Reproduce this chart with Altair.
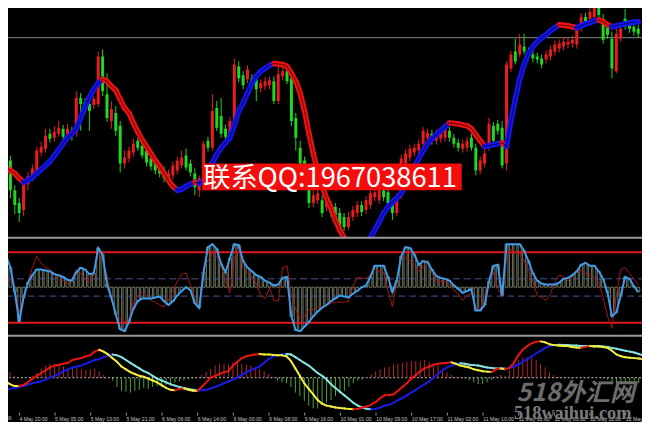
import json
import altair as alt
import pandas as pd

# ---------------- data (bar index 0..144, hourly bars) ----------------
open_ = [117, 80, 50, 37, 30, 56, 63, 70, 88, 92,
         107, 103, 107, 112, 106, 110, 108, 143, 139, 137,
         136, 137, 185, 147, 120, 128, 115, 77, 82, 88,
         100, 95, 90, 82, 78, 74, 70, 60, 65, 70,
         75, 85, 77, 67, 50, 60, 100, 93, 133, 125,
         112, 107, 117, 175, 166, 162, 163, 162, 153, 155,
         156, 160, 140, 165, 170, 163, 123, 93, 80, 57,
         37, 40, 40, 33, 35, 33, 27, 23, 13, 23,
         27, 35, 30, 35, 43, 40, 50, 48, 38, 27,
         45, 77, 83, 88, 90, 97, 103, 107, 100, 102,
         103, 110, 103, 98, 92, 93, 103, 93, 70, 77,
         93, 115, 117, 113, 77, 173, 190, 187, 195, 190,
         187, 185, 183, 182, 185, 190, 193, 195, 197, 198,
         197, 213, 225, 223, 225, 235, 223, 215, 203, 170,
         203, 223, 218, 215, 213]
close_ = [73, 50, 35, 27, 57, 64, 72, 90, 94, 105,
          102, 109, 113, 104, 112, 105, 143, 137, 134, 130,
          142, 185, 150, 123, 132, 110, 77, 83, 90, 97,
          93, 85, 78, 74, 70, 67, 62, 67, 75, 80,
          83, 73, 68, 53, 62, 97, 93, 130, 113, 107,
          104, 120, 177, 163, 156, 172, 158, 152, 158, 160,
          161, 140, 167, 170, 160, 120, 103, 77, 70, 37,
          45, 47, 27, 40, 27, 25, 13, 13, 23, 30,
          35, 28, 40, 47, 48, 50, 43, 37, 27, 43,
          82, 87, 92, 93, 97, 110, 108, 100, 107, 109,
          112, 103, 97, 93, 97, 100, 93, 70, 80, 87,
          117, 100, 110, 75, 177, 187, 180, 197, 190, 187,
          183, 182, 177, 187, 192, 197, 198, 200, 200, 202,
          213, 225, 220, 230, 235, 227, 202, 207, 173, 208,
          213, 215, 213, 210, 208]
high_ = [122, 85, 55, 42, 62, 68, 76, 94, 99, 112,
         112, 115, 120, 116, 117, 114, 150, 148, 143, 141,
         145, 190, 192, 168, 140, 135, 120, 90, 94, 102,
         103, 98, 94, 86, 82, 78, 74, 71, 79, 84,
         90, 92, 81, 72, 65, 100, 104, 147, 140, 143,
         116, 124, 183, 180, 170, 176, 167, 165, 162, 164,
         165, 165, 175, 174, 175, 168, 128, 100, 84, 62,
         50, 51, 45, 44, 39, 37, 32, 27, 28, 34,
         39, 39, 44, 51, 52, 54, 54, 52, 42, 47,
         86, 91, 96, 97, 101, 114, 112, 111, 111, 113,
         116, 114, 107, 102, 101, 104, 107, 97, 84, 91,
         123, 119, 121, 120, 180, 191, 203, 208, 208, 194,
         191, 189, 187, 191, 196, 201, 202, 204, 204, 206,
         217, 229, 229, 234, 240, 240, 228, 219, 210, 213,
         217, 233, 222, 219, 217]
low_ = [68, 42, 26, 18, 24, 50, 59, 66, 84, 88,
        98, 99, 104, 100, 102, 100, 104, 110, 128, 110,
        132, 134, 145, 119, 112, 105, 68, 72, 78, 84,
        90, 82, 74, 70, 66, 63, 58, 55, 61, 66,
        72, 70, 64, 45, 43, 57, 89, 90, 110, 103,
        100, 103, 113, 159, 152, 158, 154, 140, 149, 151,
        152, 137, 137, 161, 157, 115, 90, 70, 65, 32,
        33, 36, 23, 29, 23, 21, 8, 9, 10, 19,
        23, 24, 26, 31, 39, 36, 39, 33, 20, 24,
        41, 73, 79, 84, 86, 94, 99, 96, 96, 98,
        99, 99, 93, 89, 88, 89, 90, 65, 66, 73,
        90, 96, 106, 72, 70, 169, 177, 184, 187, 183,
        179, 178, 173, 178, 181, 186, 189, 191, 193, 194,
        193, 210, 216, 219, 222, 224, 198, 203, 163, 168,
        200, 212, 209, 206, 204]
ma_line = [72, 70, 67, 62, 58, 60, 63, 67, 71, 75,
           79, 85, 91, 97, 103, 107, 112, 123, 134, 144,
           152, 158, 162, 160, 155, 151, 142, 133, 128, 118,
           109, 101, 94, 87, 80, 74, 67, 60, 54, 50,
           51, 54, 56, 58, 57, 60, 68, 78, 86, 93,
           98, 103, 116, 130, 138, 148, 158, 165, 170, 173,
           176, 178, 177.5, 177, 175, 168, 160, 148, 130, 107,
           87, 68, 54, 42, 32, 20, 10, 2, -5, -10,
           -12, -10, -4, 2, 10, 18, 27, 33, 38, 42,
           47, 55, 65, 74, 82, 90, 97, 102, 106, 110,
           114, 118, 117.5, 117, 116, 115, 112, 106, 100, 94,
           95, 96, 97, 98, 94, 120, 142, 162, 177, 188,
           195, 200, 204, 207, 211, 214, 217, 216.5, 216, 215,
           214, 216, 218, 219, 221, 222, 220, 217, 215, 216,
           217, 218, 219, 219.5, 220]
level_price = 204

osc_main = [34, 21, -5, -37, -11, 5, 13, 19, 19, 18,
            17, 14, 13, 11, 8, 7, 16, 21, 19, 14,
            15, 42, 35, 3, -11, -29, -45, -47, -37, -23,
            -15, -12, -12, -12, -11, -10, -15, -19, -15, -9,
            -4, 0, -3, -17, -22, 16, 43, 46, 41, 25,
            16, 31, 46, 45, 28, 21, 17, 13, 11, 7,
            5, 2, 3, 10, 11, -31, -46, -47, -42, -37,
            -31, -26, -22, -19, -15, -12, -9, -10, -11, -7,
            -4, 0, 2, 11, 23, 23, 23, 11, -5, 7,
            33, 43, 42, 35, 24, 28, 27, 19, 12, 10,
            9, 7, 2, -2, -6, -4, -2, -25, -25, -19,
            6, 23, 24, -9, 46, 46, 46, 46, 39, 28,
            15, 7, 4, 3, 3, 3, 5, 9, 10, 13,
            17, 24, 26, 23, 23, 17, 9, -6, -31, -27,
            -9, 11, 9, 1, -5]
osc_signal = [16, 6, -1, -27, -9, 6, 21, 33, 26, 21,
              19, 15, 11, 7, 4, 9, 19, 15, 9, 6,
              13, 38, 29, 13, -14, -27, -34, -37, -34, -17,
              -9, -5, -9, -14, -16, -19, -21, -14, -4, 6,
              14, 15, 3, -14, -21, 21, 29, 36, 33, 23,
              6, -6, 31, 43, 21, 16, 11, 4, -9, -12,
              -1, -14, -15, 21, 23, -9, -24, -34, -31, -24,
              -24, -21, -21, -19, -17, -16, -16, -16, -15, 1,
              11, 10, 9, 14, 19, 17, 16, -4, -21, 6,
              34, 31, 29, 23, 17, 21, 29, 16, 6, 6,
              6, 3, -3, -7, -14, -9, -6, -21, -24, -9,
              6, 16, -1, -11, 31, 41, 38, 36, 29, 19,
              6, -9, -11, -14, -7, 6, 13, 11, 7, 11,
              16, 18, 15, 13, 11, 6, -11, -31, -44, -9,
              19, 21, 15, 9, 3]
osc_levels_solid = [37.5, -38]
osc_levels_dash = [9, -9.5]

macd_hist = [15, 12, 6, 2, 0, 0, 0, 2, 5, 10,
             13, 15, 15, 14, 12, 10, 11, 10, 9, 8,
             9, 10, 7, 3, 0, -3, -10, -14, -15, -16,
             -14, -13, -11, -12, -10, -9, -10, -8, -6, -5,
             -4, -3, -2, -1, 0, 3, 6, 9, 13, 15,
             15, 14, 16, 17, 15, 14, 13, 10, 9, 7,
             4, 1, -3, -5, -6, -10, -16, -20, -25, -30,
             -33, -33, -29, -27, -24, -20, -17, -14, -10, -6,
             -3, -2, 1, 4, 7, 9, 11, 12, 14, 15,
             16, 17, 18, 18, 18, 19, 17, 15, 13, 9,
             6, 3, 1, 0, -1, -3, -5, -7, -7, -5,
             -2, 2, 3, 2, 8, 14, 19, 22, 22, 21,
             19, 15, 11, 6, 3, 1, 0, 0, -1, 0,
             0, 0, 1, 0, 0, -1, -2, -4, -6, -7,
             -6, -7, -6, -6, -5]
macd_fast = [-2, -4, -7, -9, -9, -8, -5, -1, 2, 5,
             8, 11, 13, 14, 15, 16, 19, 20, 21, 23,
             24, 28, 30, 28, 25, 21, 17, 12, 9, 6,
             4, 2, 1, -1, -3, -5, -8, -11, -13, -13.5,
             -12, -11.5, -13, -14, -14, -10, -5, 0, 2, 4,
             6, 7, 13, 17, 21, 23, 24, 25, 25.5, 25,
             25, 24.5, 24, 24, 23, 18, 10, 2, -6, -12,
             -18, -24, -28, -30, -31, -32, -32.5, -33, -33.5, -34,
             -33.5, -32, -31, -29, -26, -22, -19, -18.5, -18, -14,
             -10, -6, -1, 3, 7, 10, 12, 14, 15, 15.5,
             16, 16.5, 15, 13, 12, 11, 9, 8, 7, 6.5,
             6, 9, 10, 9, 10.5, 16, 24, 30, 34, 37,
             38.5, 39, 38, 36, 35, 34.5, 34, 34, 33, 32.5,
             32, 33, 34, 33.5, 33.5, 33, 32, 29, 25, 23,
             22, 21.5, 21, 20.5, 20]
macd_slow = [-14, -13, -12, -11, -10, -9, -7.5, -6, -5, -4,
             -2, 0, 2, 4, 7, 9, 11, 12, 13, 15,
             17, 19, 20, 22, 24, 25, 24, 22, 19, 16,
             13, 10, 7, 5, 2, -1, -3, -5, -7, -8.5,
             -10, -11, -12, -13, -14, -13.5, -13, -11.5, -10, -8,
             -6, -4, -2, 0, 3, 6, 8, 10, 12, 16,
             20, 23, 24, 25, 25.5, 25, 22, 19, 16, 13,
             9, 5, 2, -2, -7, -11, -15, -19, -23, -27,
             -30, -32, -33.5, -34, -33.5, -32, -30, -29, -27, -24,
             -22, -19, -16, -13, -10, -7, -4, 0, 4, 8,
             11, 13, 15, 15.5, 15, 14, 13.5, 13, 12, 11,
             10.5, 10, 10, 10, 10.5, 12, 14, 17, 20, 23,
             26, 29, 32, 34, 35, 35.5, 35, 35, 34.5, 34.5,
             34, 34, 34, 34, 34, 33.5, 33, 32, 31, 30,
             29, 28, 27, 25.5, 24]

tick_bars = [4, 12, 20, 28, 36, 44, 52, 60, 68, 76, 84, 92, 100, 108, 116, 124, 132, 140]
tick_labels = ["4 May 20:00", "5 May 05:00", "5 May 13:00", "5 May 21:00",
               "6 May 06:00", "6 May 14:00", "9 May 00:00", "9 May 08:00", "9 May 16:00",
               "10 May 01:00", "10 May 09:00", "10 May 17:00", "11 May 02:00", "11 May 10:00",
               "11 May 18:00", "12 May 03:00", "12 May 11:00", "12 May 19:00"]
first_tick_bar = -4
first_tick_label = "4 May 12:00"

note_text = "联系QQ:1967038611"
wm_cn = "518外汇网"
wm_en = "518waihui.com"

# ---------------- styling ----------------
W = 650
H_MAIN, H_OSC, H_MACD = 237, 99, 78
RED, GREEN = "#ec1c1c", "#1fd81f"
LABEL_FONT, LABEL_SIZE, LABEL_COLOR = "Liberation Sans", 5.2, "#c4c4c4"
bars = list(range(len(close_)))

candles = pd.DataFrame({"k": bars, "open": open_, "close": close_, "high": high_, "low": low_})
candles["col"] = [RED if c >= o else GREEN for o, c in zip(open_, close_)]


def segments(values, up_col, down_col):
    rows = []
    for i in range(len(values) - 1):
        c = up_col if values[i + 1] > values[i] else down_col
        rows.append({"seg": i, "k": i, "v": values[i], "col": c})
        rows.append({"seg": i, "k": i + 1, "v": values[i + 1], "col": c})
    return pd.DataFrame(rows)


xsc = alt.Scale(domain=[0, 144.4], nice=False, zero=False)
X = alt.X("k:Q", scale=xsc, axis=None)
one = pd.DataFrame({"a": [0]})

# ---------------- main price panel ----------------
ysc_main = alt.Scale(domain=[3, 240], nice=False, zero=False)
level = alt.Chart(one).mark_rule(color="#8a8a8a", strokeWidth=1).encode(
    y=alt.Y(datum=level_price, scale=ysc_main, axis=None))
wicks = alt.Chart(candles).mark_rule(strokeWidth=1, clip=True).encode(
    x=X, y=alt.Y("low:Q", scale=ysc_main, axis=None), y2="high:Q",
    color=alt.Color("col:N", scale=None))
bodies = alt.Chart(candles).mark_bar(size=3, clip=True).encode(
    x=X, y=alt.Y("open:Q", scale=ysc_main, axis=None), y2="close:Q",
    color=alt.Color("col:N", scale=None))
ma_seg = segments(ma_line, "#1414f0", "#f01010")
ma_band = alt.Chart(ma_seg).mark_line(strokeWidth=5.5, strokeCap="round", clip=True).encode(
    x=X, y=alt.Y("v:Q", scale=ysc_main, axis=None), detail="seg:N",
    color=alt.Color("col:N", scale=None))
ma_core = alt.Chart(pd.DataFrame({"k": bars, "v": ma_line})).mark_line(
    strokeWidth=1.1, color="#000000", opacity=0.55, clip=True).encode(
    x=X, y=alt.Y("v:Q", scale=ysc_main, axis=None))
note_box = alt.Chart(one).mark_rect(color="#f50d0d").encode(
    x=alt.value(203), x2=alt.value(465), y=alt.value(163), y2=alt.value(190))
note = alt.Chart(one).mark_text(align="left", baseline="alphabetic", fontSize=27.5,
                                font="Noto Sans CJK SC", color="white").encode(
    x=alt.value(204), y=alt.value(187), text=alt.value(note_text))
main = alt.layer(level, wicks, bodies, ma_band, ma_core, note_box, note).properties(
    width=W, height=H_MAIN)

# ---------------- oscillator panel ----------------
ysc_osc = alt.Scale(domain=[-51, 54], nice=False, zero=False)
osc_df = pd.DataFrame({"k": bars, "main": osc_main, "sig": osc_signal})
sep1 = alt.Chart(one).mark_rule(color="#9a9a9a", strokeWidth=2).encode(
    x=alt.value(0), x2=alt.value(W), y=alt.value(1))
hist_o = alt.Chart(osc_df).mark_bar(size=3, filled=False, stroke="#b4c09c",
                                    strokeWidth=0.6, clip=True).encode(
    x=X, y=alt.Y("main:Q", scale=ysc_osc, axis=None))
dash_o = alt.Chart(pd.DataFrame({"lv": osc_levels_dash})).mark_rule(
    color="#4b5590", strokeDash=[7, 4], strokeWidth=1).encode(
    y=alt.Y("lv:Q", scale=ysc_osc, axis=None))
solid_o = alt.Chart(pd.DataFrame({"lv": osc_levels_solid})).mark_rule(
    color="#e4181c", strokeWidth=2).encode(y=alt.Y("lv:Q", scale=ysc_osc, axis=None))
sig_line = alt.Chart(osc_df).mark_line(color="#a81414", strokeWidth=1, clip=True).encode(
    x=X, y=alt.Y("sig:Q", scale=ysc_osc, axis=None))
main_line = alt.Chart(osc_df).mark_line(color="#3c9cec", strokeWidth=2, clip=True).encode(
    x=X, y=alt.Y("main:Q", scale=ysc_osc, axis=None))
osc = alt.layer(hist_o, dash_o, solid_o, sig_line, main_line, sep1).properties(
    width=W, height=H_OSC)

# ---------------- MACD panel ----------------
ysc_m = alt.Scale(domain=[-37, 46], nice=False, zero=False)
xaxis = alt.Axis(values=tick_bars,
                 labelExpr=f"{json.dumps(tick_labels)}[indexof({json.dumps(tick_bars)}, datum.value)]",
                 labelColor=LABEL_COLOR, labelFontSize=LABEL_SIZE, labelFont=LABEL_FONT,
                 labelAlign="left", labelPadding=1, labelFlush=False, labelOverlap=False,
                 tickColor="#9a9a9a", tickSize=3, domain=False, grid=False, title=None)
Xa = alt.X("k:Q", scale=xsc, axis=xaxis)
hist_df = pd.DataFrame({"k": bars, "h": macd_hist})
hist_df["col"] = ["#b42828" if h > 0 else "#4ea43a" for h in macd_hist]
sep2 = alt.Chart(one).mark_rule(color="#9a9a9a", strokeWidth=2).encode(
    x=alt.value(0), x2=alt.value(W), y=alt.value(1))
zero = alt.Chart(one).mark_rule(color="#c8c8c8", strokeDash=[2, 2], strokeWidth=1).encode(
    y=alt.Y(datum=0, scale=ysc_m, axis=None))
hist_m = alt.Chart(hist_df).mark_rule(strokeWidth=1, clip=True).encode(
    x=Xa, y=alt.Y("h:Q", scale=ysc_m, axis=None), y2=alt.Y2(datum=0),
    color=alt.Color("col:N", scale=None))
slow = alt.Chart(segments(macd_slow, "#1a1ae6", "#86e4e0")).mark_line(
    strokeWidth=2, strokeCap="round", clip=True).encode(
    x=Xa, y=alt.Y("v:Q", scale=ysc_m, axis=None), detail="seg:N",
    color=alt.Color("col:N", scale=None))
fast = alt.Chart(segments(macd_fast, "#e81414", "#f2ee3c")).mark_line(
    strokeWidth=2, strokeCap="round", clip=True).encode(
    x=Xa, y=alt.Y("v:Q", scale=ysc_m, axis=None), detail="seg:N",
    color=alt.Color("col:N", scale=None))
# the earlier time label, mostly beyond the left edge (cut off, as in the original)
first_lab = alt.Chart(one).mark_text(align="left", baseline="top", fontSize=LABEL_SIZE,
                                     font=LABEL_FONT, color=LABEL_COLOR).encode(
    x=alt.X(datum=first_tick_bar, scale=xsc, axis=xaxis), y=alt.value(H_MACD + 4),
    text=alt.value(first_tick_label))
wm1 = alt.Chart(one).mark_text(align="center", baseline="alphabetic", fontSize=25,
                               font="Noto Sans CJK SC", fontStyle="italic", fontWeight="bold",
                               color="#6c6c6c").encode(
    x=alt.value(580), y=alt.value(67), text=alt.value(wm_cn))
wm2 = alt.Chart(one).mark_text(align="center", baseline="alphabetic", fontSize=18.5,
                               font="Liberation Serif", fontWeight="bold",
                               color="#7a7a7a").encode(
    x=alt.value(577), y=alt.value(85), text=alt.value(wm_en))
macd = alt.layer(zero, hist_m, slow, fast, first_lab, wm1, wm2, sep2).properties(
    width=W, height=H_MACD)

# negative padding lets the 8px page margin crop the chart edges, as the original window did
chart = alt.vconcat(main, osc, macd, spacing=0).properties(
    background="black",
    padding={"left": -26, "top": -8, "right": -15, "bottom": -3},
).configure_view(stroke=None).configure_concat(spacing=0)

chart.save("out.html", embed_options={"renderer": "svg", "actions": False})
